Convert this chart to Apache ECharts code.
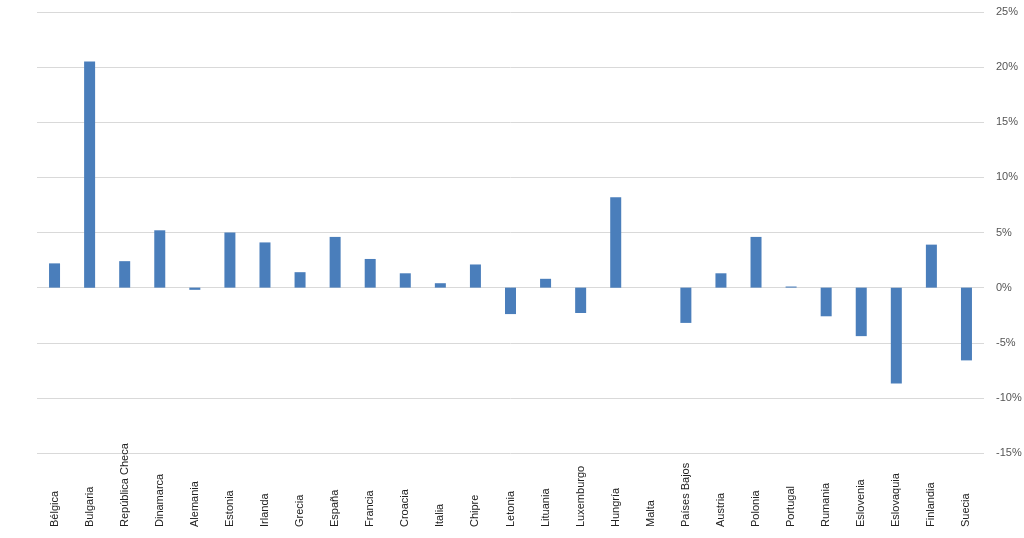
<!DOCTYPE html><html><head><meta charset="utf-8"><script src="https://cdn.jsdelivr.net/npm/echarts@6/dist/echarts.min.js"></script></head><body style="margin:0;background:#fff"><div id="c" style="width:1024px;height:538px"></div><script>
const categories=["Bélgica","Bulgaria","República Checa","Dinamarca","Alemania","Estonia","Irlanda","Grecia","España","Francia","Croacia","Italia","Chipre","Letonia","Lituania","Luxemburgo","Hungría","Malta","Países Bajos","Austria","Polonia","Portugal","Rumania","Eslovenia","Eslovaquia","Finlandia","Suecia"];
const values=[2.2,20.5,2.4,5.2,-0.2,5.0,4.1,1.4,4.6,2.6,1.3,0.4,2.1,-2.4,0.8,-2.3,8.2,0,-3.2,1.3,4.6,0.1,-2.6,-4.4,-8.7,3.9,-6.6];
const chart=echarts.init(document.getElementById('c'));
chart.setOption({animation:false,
grid:{left:37,right:40,top:12,bottom:85,outerBoundsMode:'none',containLabel:false},
xAxis:{type:'category',data:categories,position:'bottom',axisLine:{show:false},axisTick:{show:false},
 axisLabel:{rotate:90,interval:0,align:'left',color:'#222',fontSize:11,fontFamily:'Liberation Sans',margin:74}},
yAxis:{type:'value',position:'right',min:-15,max:25,interval:5,
 axisLabel:{formatter:'{value}%',color:'#555',fontSize:11,fontFamily:'Liberation Sans',margin:12},
 splitLine:{lineStyle:{color:'#d9d9d9'}},axisLine:{show:false},axisTick:{show:false}},
series:[{type:'bar',data:values,barWidth:11,itemStyle:{color:'#4a7ebb'}}]});
</script></body></html>
